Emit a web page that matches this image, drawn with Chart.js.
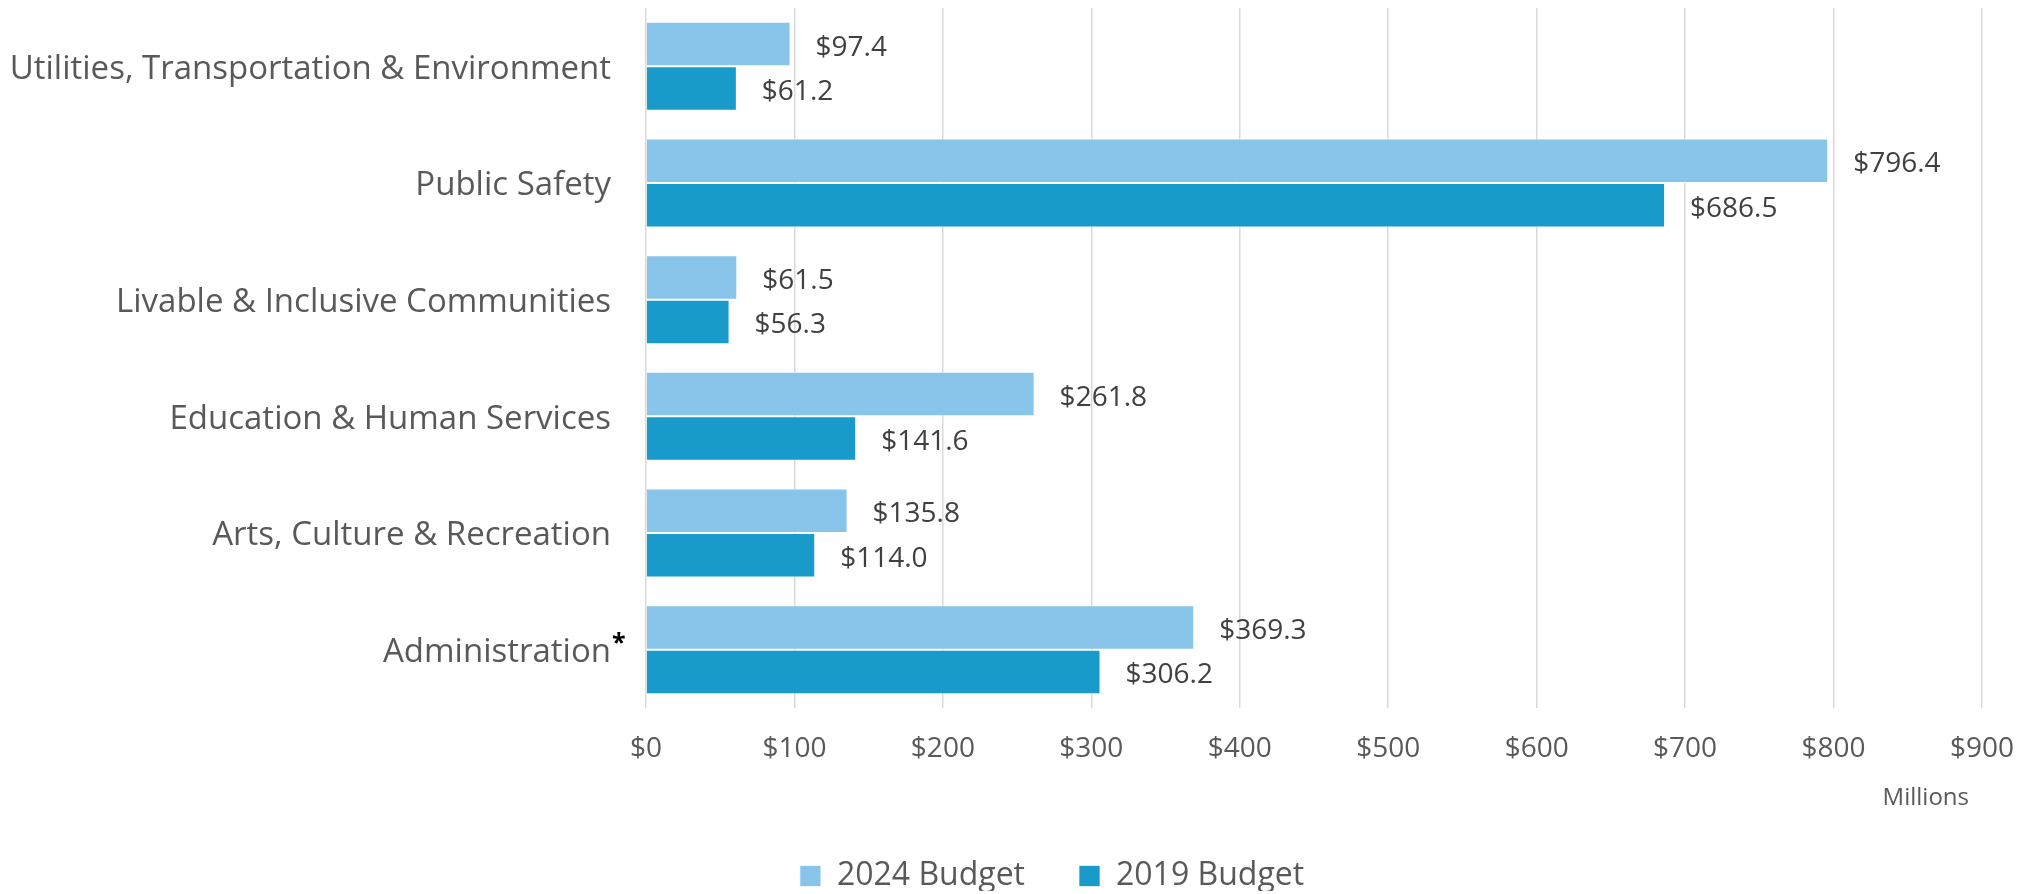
<!DOCTYPE html>
<html>
<head>
<meta charset="utf-8">
<script src="https://cdn.jsdelivr.net/npm/chart.js@4.4.1/dist/chart.umd.min.js"></script>
<style>
  html, body { margin: 0; padding: 0; background: #ffffff; }
  #wrap { width: 2038px; height: 894px; position: relative; }
</style>
</head>
<body>
<div id="wrap"><canvas id="c"></canvas></div>
<script>
const categories = [
  "Utilities, Transportation & Environment",
  "Public Safety",
  "Livable & Inclusive Communities",
  "Education & Human Services",
  "Arts, Culture & Recreation",
  "Administration"
];
const footnoteMarks = ["", "", "", "", "", "*"];
const budget2024 = [97.4, 796.4, 61.5, 261.8, 135.8, 369.3];
const budget2019 = [61.2, 686.5, 56.3, 141.6, 114.0, 306.2];
const seriesNames = ["2024 Budget", "2019 Budget"];
const xTickValues = [0, 100, 200, 300, 400, 500, 600, 700, 800, 900];
const axisUnit = "Millions";

const FONT = "'Open Sans', 'DejaVu Sans', sans-serif";
const TEXT = "#595959";

const valueLabels = {
  id: 'valueLabels',
  afterDatasetsDraw(chart) {
    const ctx = chart.ctx;
    ctx.save();
    ctx.font = "28px " + FONT;
    ctx.fillStyle = "#404040";
    ctx.textAlign = "left";
    ctx.textBaseline = "middle";
    chart.data.datasets.forEach((ds, di) => {
      const meta = chart.getDatasetMeta(di);
      meta.data.forEach((el, i) => {
        ctx.fillText("$" + ds.data[i].toFixed(1), el.x + 25, el.y + 3.5);
      });
    });
    ctx.restore();
  }
};

const extras = {
  id: 'extras',
  afterDraw(chart) {
    const ctx = chart.ctx;
    const ys = chart.scales.y;
    const xs = chart.scales.x;
    ctx.save();
    ctx.font = "bold 25px " + FONT;
    ctx.fillStyle = "#000000";
    ctx.textAlign = "left";
    ctx.textBaseline = "alphabetic";
    footnoteMarks.forEach((m, i) => {
      if (!m) return;
      const y = ys.getPixelForValue(i);
      ctx.fillText(m, chart.chartArea.left - 35 + 1, y + 1);
    });
    ctx.font = "24px " + FONT;
    ctx.fillStyle = TEXT;
    ctx.textAlign = "right";
    ctx.textBaseline = "middle";
    ctx.fillText(axisUnit, chart.chartArea.right - 13, xs.bottom - 8);
    ctx.restore();
  }
};

new Chart(document.getElementById('c'), {
  type: 'bar',
  data: {
    labels: categories,
    datasets: [
      {
        label: seriesNames[0],
        data: budget2024,
        backgroundColor: '#89C4EB',
        borderColor: 'rgba(255,255,255,0.7)',
        borderWidth: 1,
        categoryPercentage: 0.763,
        barPercentage: 1.0
      },
      {
        label: seriesNames[1],
        data: budget2019,
        backgroundColor: '#189ACA',
        borderColor: 'rgba(255,255,255,0.7)',
        borderWidth: 1,
        categoryPercentage: 0.763,
        barPercentage: 1.0
      }
    ]
  },
  options: {
    indexAxis: 'y',
    responsive: true,
    maintainAspectRatio: false,
    animation: false,
    layout: { padding: { left: 111, right: 45, top: 8, bottom: 3 } },
    scales: {
      x: {
        min: 0,
        max: 900,
        afterBuildTicks(scale) { scale.ticks = xTickValues.map(v => ({ value: v })); },
        afterFit(scale) { scale.height = 98; },
        grid: { color: '#D9D9D9', lineWidth: 1.5, drawTicks: false },
        border: { display: false },
        ticks: {
          padding: 24,
          color: TEXT,
          font: { family: FONT, size: 28 },
          callback: (v) => '$' + v
        }
      },
      y: {
        afterFit(scale) {
          scale.width = 535;
          scale.paddingTop = 0;
          scale.paddingBottom = 0;
          scale._computeLabelArea = () => null;
        },
        grid: { display: false, drawTicks: false },
        border: { display: false },
        ticks: {
          padding: 35,
          labelOffset: 3,
          autoSkip: false,
          color: TEXT,
          font: { family: FONT, size: 33 }
        }
      }
    },
    plugins: {
      legend: {
        position: 'bottom',
        maxHeight: 85,
        labels: {
          boxWidth: 21,
          boxHeight: 21,
          padding: 54,
          color: TEXT,
          font: { family: FONT, size: 32 }
        }
      },
      tooltip: { enabled: false }
    }
  },
  plugins: [valueLabels, extras]
});
</script>
</body>
</html>
